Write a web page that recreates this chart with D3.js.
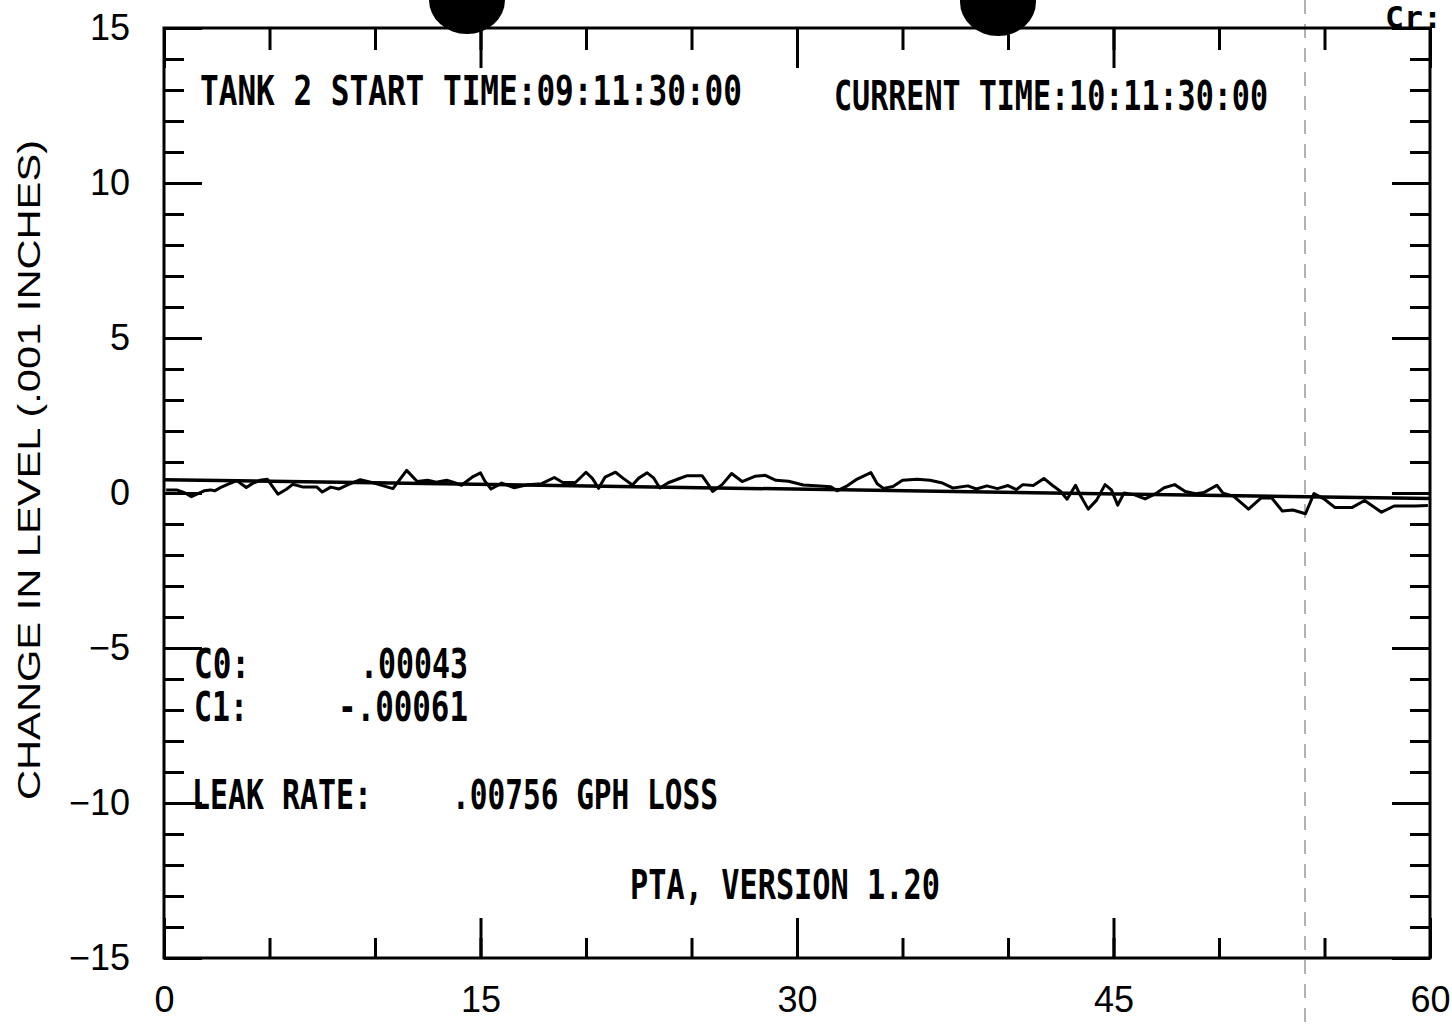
<!DOCTYPE html>
<meta charset="utf-8">
<style>
body { margin: 0; background: #fff; }
.tick line { stroke: #000; stroke-width: 3px; }
.tick text { font-family: "Liberation Sans", Arial, sans-serif; font-size: 36px; fill: #000; }
.domain { display: none; }
.plotter { font-family: "DejaVu Sans Mono", monospace; font-weight: bold; font-size: 40px; fill: #000; }
</style>
<svg width="1452" height="1024"></svg>
<script src="https://d3js.org/d3.v7.min.js"></script>
<script>
// elapsed minutes and level change (.001 inches)
var minutes = [0.1,0.6,1.0,1.3,1.9,2.2,2.4,2.75,3.1,3.45,3.9,4.2,4.55,4.9,5.4,5.8,6.1,6.6,7.25,7.5,7.9,8.3,8.7,9.3,9.75,10.2,10.85,11.5,12.0,12.5,12.9,13.4,13.7,14.1,14.6,
  15.0,15.2,15.5,16.0,16.6,17.25,17.9,18.5,18.9,19.5,20.0,20.3,20.6,20.9,21.4,21.75,22.2,22.5,22.9,23.2,23.5,23.9,24.4,24.8,25.5,25.8,26.0,26.45,26.9,27.4,28.0,28.5,29.0,29.6,
  30.3,30.9,31.6,31.9,32.4,32.8,33.5,33.8,34.1,34.55,35.0,35.7,36.3,36.9,37.4,38.1,38.5,39.0,39.5,40.0,40.4,40.7,41.2,41.7,42.1,42.5,42.8,43.2,43.4,43.8,44.2,44.6,
  44.9,45.2,45.5,46.0,46.5,47.0,47.4,47.9,48.4,48.9,49.3,49.9,50.2,50.7,51.4,52.0,52.5,53.0,53.5,54.1,54.5,55.0,55.5,56.3,56.9,57.7,58.3,59.3,59.9];

var level = [0.10,0.10,0.00,-0.12,0.07,0.10,0.07,0.20,0.30,0.40,0.18,0.31,0.41,0.44,-0.04,0.12,0.28,0.19,0.19,0.03,0.19,0.13,0.26,0.43,0.36,0.27,0.14,0.73,0.37,0.41,0.35,0.41,0.35,0.25,0.51,
  0.65,0.39,0.13,0.32,0.17,0.27,0.30,0.50,0.34,0.34,0.67,0.47,0.15,0.51,0.67,0.48,0.26,0.48,0.65,0.49,0.16,0.33,0.46,0.56,0.56,0.27,0.05,0.27,0.63,0.37,0.54,0.57,0.41,0.38,
  0.26,0.23,0.20,0.07,0.24,0.43,0.66,0.30,0.15,0.21,0.41,0.44,0.41,0.32,0.16,0.23,0.13,0.23,0.14,0.24,0.11,0.27,0.24,0.47,0.25,0.05,-0.20,0.25,-0.04,-0.52,-0.23,0.27,
  0.10,-0.39,0.00,-0.06,-0.19,-0.02,0.17,0.27,0.05,-0.02,0.02,0.25,-0.01,-0.11,-0.52,-0.16,-0.16,-0.58,-0.55,-0.67,-0.02,-0.20,-0.47,-0.47,-0.24,-0.62,-0.42,-0.42,-0.40];

// fitted line: C0 + C1 * hours, in .001 inches
var fitC0 = 0.43, fitC1 = -0.61;
var fitMinutes = [0, 60];

var xTicksMajor = [0, 15, 30, 45, 60];
var yTicksMajor = [-15, -10, -5, 0, 5, 10, 15];

var svg = d3.select("svg");

var plotLeft = 164, plotRight = 1430, plotTop = 28, plotBottom = 958;

var x = d3.scaleLinear().domain([0, 60]).range([plotLeft, plotRight]);
var y = d3.scaleLinear().domain([-15, 15]).range([plotBottom, plotTop]);

// scan artefacts: punch holes and a faint fold line
svg.append("ellipse").attr("cx", 467).attr("cy", 0).attr("rx", 38).attr("ry", 34).attr("fill", "#000");
svg.append("ellipse").attr("cx", 998).attr("cy", 2).attr("rx", 38).attr("ry", 34).attr("fill", "#000");
svg.append("line").attr("x1", 1305).attr("x2", 1305).attr("y1", 0).attr("y2", 1024)
    .attr("stroke", "#666").attr("stroke-width", 1).attr("stroke-dasharray", "14,10");

// minor ticks (every 5 min / every 1 unit), drawn inward
svg.append("g").attr("transform", "translate(0," + plotBottom + ")")
    .call(d3.axisBottom(x).tickValues(d3.range(0, 61, 5)).tickSize(-20).tickFormat(""));
svg.append("g").attr("transform", "translate(0," + plotTop + ")")
    .call(d3.axisTop(x).tickValues(d3.range(0, 61, 5)).tickSize(-22).tickFormat(""));
svg.append("g").attr("transform", "translate(" + plotLeft + ",0)")
    .call(d3.axisLeft(y).tickValues(d3.range(-15, 16, 1)).tickSize(-20).tickFormat(""));
svg.append("g").attr("transform", "translate(" + plotRight + ",0)")
    .call(d3.axisRight(y).tickValues(d3.range(-15, 16, 1)).tickSize(-20).tickFormat(""));

// major ticks with labels
svg.append("g").attr("transform", "translate(0," + plotBottom + ")")
    .call(d3.axisBottom(x).tickValues(xTicksMajor).tickSize(-40).tickPadding(28));
svg.append("g").attr("transform", "translate(0," + plotTop + ")")
    .call(d3.axisTop(x).tickValues(xTicksMajor).tickSize(-40).tickFormat(""));
svg.append("g").attr("transform", "translate(" + plotLeft + ",0)")
    .call(d3.axisLeft(y).tickValues(yTicksMajor).tickSize(-38).tickPadding(34));
svg.append("g").attr("transform", "translate(" + plotRight + ",0)")
    .call(d3.axisRight(y).tickValues(yTicksMajor).tickSize(-38).tickFormat(""));

svg.append("rect")
    .attr("x", plotLeft).attr("y", plotTop)
    .attr("width", plotRight - plotLeft).attr("height", plotBottom - plotTop)
    .attr("fill", "none").attr("stroke", "#000").attr("stroke-width", 3);

// fit line
svg.append("path")
    .datum(fitMinutes)
    .attr("fill", "none").attr("stroke", "#000").attr("stroke-width", 3.5)
    .attr("d", d3.line()
        .x(function(d) { return x(d); })
        .y(function(d) { return y(fitC0 + fitC1 * d / 60); }));

// measured trace
svg.append("path")
    .datum(d3.range(minutes.length))
    .attr("fill", "none").attr("stroke", "#000").attr("stroke-width", 3)
    .attr("stroke-linejoin", "round")
    .attr("d", d3.line()
        .x(function(i) { return x(minutes[i]); })
        .y(function(i) { return y(level[i]); }));

// y axis title
svg.append("text")
    .attr("transform", "translate(40,470) rotate(-90)")
    .attr("text-anchor", "middle")
    .attr("textLength", 660).attr("lengthAdjust", "spacingAndGlyphs")
    .style("font-family", "Liberation Sans, Arial, sans-serif")
    .style("font-size", "32px")
    .text("CHANGE IN LEVEL (.001 INCHES)");

// plotter annotations
function label(txt, x0, x1, base, size) {
  svg.append("text").attr("class", "plotter")
      .attr("x", x0).attr("y", base)
      .attr("textLength", x1 - x0).attr("lengthAdjust", "spacingAndGlyphs")
      .style("font-size", size ? size + "px" : null)
      .text(txt);
}
label("TANK 2  START TIME:09:11:30:00", 200, 742, 105);
label("CURRENT TIME:10:11:30:00", 834, 1268, 110);
label("C0:", 194, 250, 678);
label(".00043", 360, 468, 678);
label("C1:", 194, 248, 721);
label("-.00061", 338, 468, 721);
label("LEAK RATE:", 192, 372, 809);
label(".00756 GPH LOSS", 452, 718, 809);
label("PTA, VERSION 1.20", 630, 940, 899);
label("Cr:", 1385, 1442, 28, 30);
</script>
